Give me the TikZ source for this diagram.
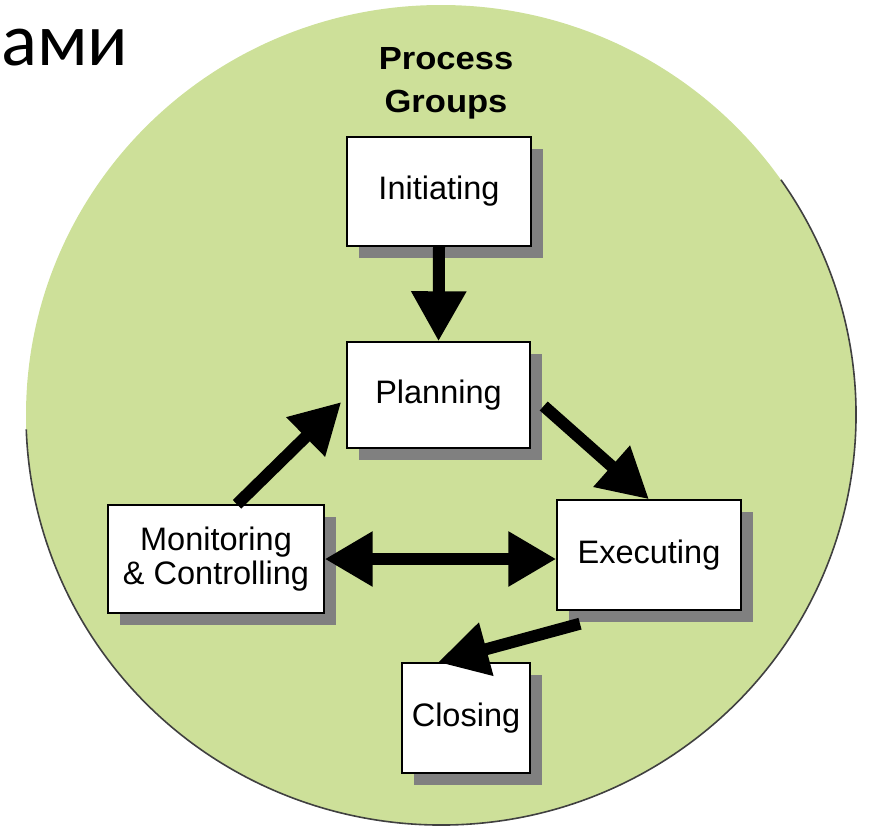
\documentclass[tikz,border=0pt]{standalone}
\usepackage{fontspec}
\setmainfont{Liberation Sans}
\newfontfamily\carl{Carlito}
\usetikzlibrary{arrows.meta,shadows,calc}
\definecolor{circgreen}{RGB}{205,224,153}
\definecolor{shadowgray}{RGB}{128,128,128}
\begin{document}
\begin{tikzpicture}[x=1pt,y=-1pt,
  box/.style={draw=black,line width=1.4pt,fill=white,inner sep=0pt,align=center,
    font=\fontsize{32.5}{34}\selectfont,
    drop shadow={shadow xshift=12pt,shadow yshift=-12pt,fill=shadowgray,opacity=1}},
  flow/.style={line width=12pt,-{Triangle[length=50pt,width=52pt]}},
  biflow/.style={line width=12pt,{Triangle[length=48pt,width=52pt]}-{Triangle[length=48pt,width=52pt]}},
  titletext/.style={font=\fontsize{32}{40}\selectfont\bfseries,inner sep=0pt,anchor=base}
]
\useasboundingbox (0,0) rectangle (869,827);
% background circle
\fill[circgreen] (441,415) ellipse [x radius=415, y radius=410];
\draw[black!75,line width=1.6pt] (441,415) ++(-35:415 and 410)
  arc[start angle=-35,end angle=178,x radius=415,y radius=410];
% heading cut-off text
\node[anchor=base west,inner sep=0pt,font=\carl\fontsize{75}{80}\selectfont] (ami) at (1,65) {ами};
% titles
\node[titletext] (t1) at (446,69) {\scalebox{1.08}[1]{Process}};
\node[titletext] (t2) at (446,112) {\scalebox{1.08}[1]{Groups}};
% boxes
\node[box,minimum width=184pt,minimum height=109pt] (init) at (439,191.5) {Initiating};
\node[box,minimum width=183pt,minimum height=106pt] (plan) at (438.5,395) {Planning};
\node[box,minimum width=216pt,minimum height=108pt] (mon) at (216,559) {Monitoring\\\& Controlling};
\node[box,minimum width=184pt,minimum height=110pt] (exec) at (649,555) {Executing};
\node[box,minimum width=128pt,minimum height=110pt] (close) at (466,718) {Closing};
% connectors
\draw[flow] (init.south) -- (plan.north);
\draw[flow] ([shift={(13,11)}]plan.east) -- (exec.north);
\draw[flow] ([xshift=21pt]mon.north) -- ([shift={(-5,7)}]plan.west);
\draw[biflow] (mon.east) -- (exec.west |- mon.east);
\draw[flow] ([shift={(-69,13)}]exec.south) -- ([xshift=-28pt]close.north);
\end{tikzpicture}
\end{document}
